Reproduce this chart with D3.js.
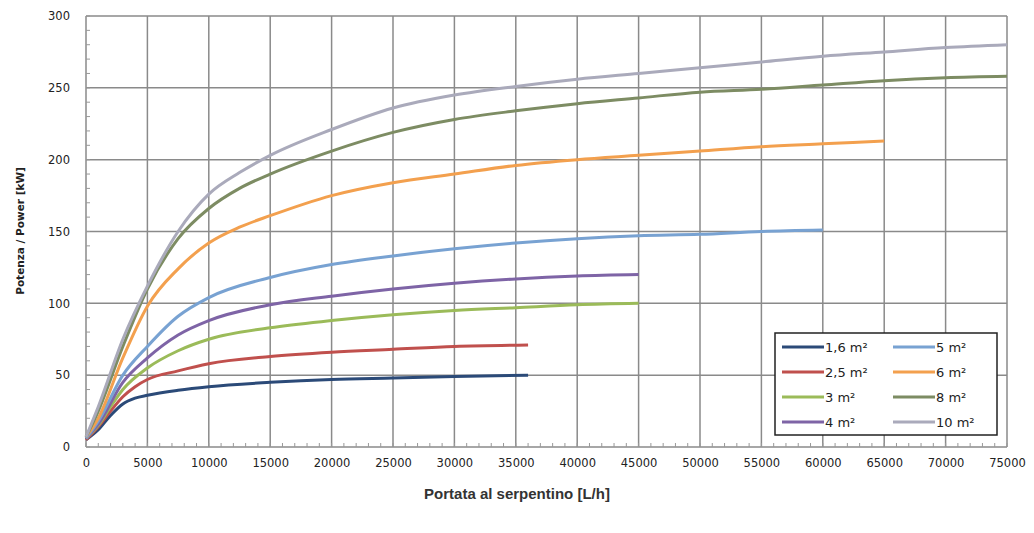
<!DOCTYPE html>
<html><head><meta charset="utf-8">
<script src="https://cdn.jsdelivr.net/npm/d3@7"></script>
<style>body{margin:0;background:#fff}svg{display:block}</style>
</head><body><svg id="c" width="1034" height="533"></svg>
<script>
const seriesNames = ["1,6 m²","2,5 m²","3 m²","4 m²","5 m²","6 m²","8 m²","10 m²"];
const seriesColors = ["#2b4a78","#c0504d","#9bbb59","#7e64a6","#78a2d2","#f3a04e","#7d8c63","#aaaabb"];
const xTicks = [0,5000,10000,15000,20000,25000,30000,35000,40000,45000,50000,55000,60000,65000,70000,75000];
const yTicks = [0,50,100,150,200,250,300];
const s16 = [[0,5],[1000,12],[2000,22],[3000,30],[4000,34],[5000,36],[7500,39.5],[10000,42],[15000,45],[20000,47],[25000,48],[30000,49],[36000,50]];
const s25 = [[0,5],[1000,14],[2000,25],[3000,35],[4000,42],[5000,47],[7500,53],[10000,58],[15000,63],[20000,66],[25000,68],[30000,70],[36000,71]];
const s3 = [[0,6],[1000,15],[2000,28],[3000,40],[5000,55],[7500,67],[10000,75],[15000,83],[20000,88],[25000,92],[30000,95],[35000,97],[40000,99],[45000,100]];
const s4 = [[0,6],[1000,16],[3000,45],[5000,62],[7500,78],[10000,88],[15000,99],[20000,105],[25000,110],[30000,114],[35000,117],[40000,119],[45000,120]];
const s5 = [[0,6],[1000,18],[3000,50],[5000,70],[7500,91],[10000,104],[15000,118],[20000,127],[25000,133],[30000,138],[35000,142],[40000,145],[45000,147],[50000,148],[55000,150],[60000,151]];
const s6 = [[0,7],[1000,20],[3000,62],[5000,98],[7500,124],[10000,142],[12500,153],[15000,161],[20000,175],[25000,184],[30000,190],[35000,196],[40000,200],[45000,203],[50000,206],[55000,209],[60000,211],[65000,213]];
const s8 = [[0,7],[1000,25],[3000,70],[5000,110],[7500,145],[10000,166],[12500,180],[15000,190],[20000,206],[25000,219],[30000,228],[35000,234],[40000,239],[45000,243],[50000,247],[55000,249],[60000,252],[65000,255],[70000,257],[75000,258]];
const s10 = [[0,7],[1000,28],[3000,75],[5000,112],[7500,150],[10000,176],[12500,191],[15000,203],[20000,221],[25000,236],[30000,245],[35000,251],[40000,256],[45000,260],[50000,264],[55000,268],[60000,272],[65000,275],[70000,278],[75000,280]];
const seriesData = [s16,s25,s3,s4,s5,s6,s8,s10];

const svg = d3.select("#c");
const x = d3.scaleLinear().domain([0,75000]).range([86,1007]);
const y = d3.scaleLinear().domain([0,300]).range([447,16]);

const g = svg.append("g");
g.selectAll(".vx").data(xTicks).join("line")
  .attr("x1",d=>x(d)).attr("x2",d=>x(d)).attr("y1",y(0)).attr("y2",y(300))
  .attr("stroke","#8a8a8a").attr("stroke-width",1.5);
g.selectAll(".hy").data(yTicks).join("line")
  .attr("x1",x(0)).attr("x2",x(75000)).attr("y1",d=>y(d)).attr("y2",d=>y(d))
  .attr("stroke","#8a8a8a").attr("stroke-width",1.5);
g.selectAll(".mx").data(d3.range(0,75001,1000)).join("line")
  .attr("x1",d=>x(d)).attr("x2",d=>x(d)).attr("y1",y(0)).attr("y2",y(0)-4)
  .attr("stroke","#999").attr("stroke-width",1);
g.selectAll(".my").data(d3.range(0,301,10)).join("line")
  .attr("x1",x(0)).attr("x2",x(0)+4).attr("y1",d=>y(d)).attr("y2",d=>y(d))
  .attr("stroke","#999").attr("stroke-width",1);

const xa = svg.append("g").attr("transform",`translate(0,${y(0)})`)
  .call(d3.axisBottom(x).tickValues(xTicks).tickSize(0).tickPadding(12).tickFormat(d3.format("d")));
xa.select(".domain").remove();
xa.selectAll("text").attr("font-family","DejaVu Sans, Verdana, sans-serif").attr("font-size",11.5).attr("fill","#222");
const ya = svg.append("g").attr("transform",`translate(${x(0)},0)`)
  .call(d3.axisLeft(y).tickValues(yTicks).tickSize(0).tickPadding(16));
ya.select(".domain").remove();
ya.selectAll("text").attr("font-family","DejaVu Sans, Verdana, sans-serif").attr("font-size",11.5).attr("fill","#222");

const line = d3.line().x(d=>x(d[0])).y(d=>y(d[1])).curve(d3.curveMonotoneX);
svg.append("g").selectAll("path").data(seriesData).join("path")
  .attr("d",line).attr("fill","none")
  .attr("stroke",(d,i)=>seriesColors[i]).attr("stroke-width",3);

svg.append("text").attr("transform","translate(24,231) rotate(-90)")
  .attr("text-anchor","middle").attr("font-family","DejaVu Sans, Verdana, sans-serif")
  .attr("font-weight","bold").attr("font-size",10.5).attr("fill","#222").text("Potenza / Power [kW]");
svg.append("text").attr("x",517).attr("y",499).attr("text-anchor","middle")
  .attr("font-family","Liberation Sans, Arial, sans-serif").attr("font-weight","bold")
  .attr("font-size",15).attr("fill","#333").text("Portata al serpentino [L/h]");

const lg = svg.append("g");
lg.append("rect").attr("x",775).attr("y",333).attr("width",222).attr("height",102)
  .attr("fill","#fff").attr("stroke","#222").attr("stroke-width",1.5);
const rowsY = [347,372,397,422];
seriesNames.forEach((n,i)=>{
  const col = Math.floor(i/4), row = i%4;
  const x0 = col===0 ? 782 : 893;
  lg.append("line").attr("x1",x0).attr("x2",x0+42).attr("y1",rowsY[row]).attr("y2",rowsY[row])
    .attr("stroke",seriesColors[i]).attr("stroke-width",3);
  lg.append("text").attr("x",x0+43).attr("y",rowsY[row]+5)
    .attr("font-family","DejaVu Sans, Verdana, sans-serif").attr("font-size",13).attr("fill","#222").text(n);
});
</script></body></html>
